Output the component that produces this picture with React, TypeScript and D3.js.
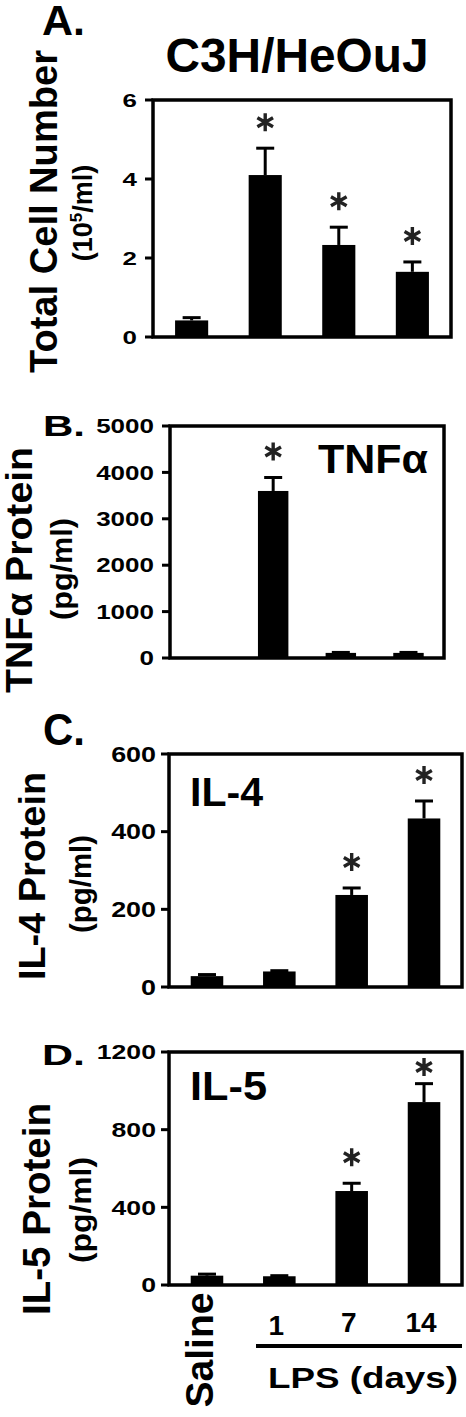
import React from "react";
import * as d3 from "d3";

// ---------- data ----------
const groups = ["Saline", "1", "7", "14"];
const dayLabels = ["1", "7", "14"];

const cellMeans = [0.42, 4.1, 2.33, 1.65];
const cellErr = [0.07, 0.68, 0.45, 0.25];
const cellSig = [false, true, true, true];
const cellTicks = [0, 2, 4, 6];

const tnfMeans = [0, 3600, 110, 110];
const tnfErr = [0, 290, 10, 10];
const tnfSig = [false, true, false, false];
const tnfTicks = [0, 1000, 2000, 3000, 4000, 5000];

const il4Means = [28, 40, 237, 434];
const il4Err = [4, 2, 18, 45];
const il4Sig = [false, false, true, true];
const il4Ticks = [0, 200, 400, 600];

const il5Means = [48, 45, 484, 942];
const il5Err = [8, 3, 40, 95];
const il5Sig = [false, false, true, true];
const il5Ticks = [0, 400, 800, 1200];

const FONT = "'Liberation Sans', Arial, Helvetica, sans-serif";

type Panel = {
  means: number[];
  errs: number[];
  sig: boolean[];
  ticks: number[];
  left: number;
  right: number;
  top: number;
  bottom: number;
  tickFs: number;
  tickSx: number;
  tickRight: number;
};

const panels: Panel[] = [
  { means: cellMeans, errs: cellErr, sig: cellSig, ticks: cellTicks, left: 153, right: 451, top: 100, bottom: 337, tickFs: 18.5, tickSx: 1.4, tickRight: 137 },
  { means: tnfMeans, errs: tnfErr, sig: tnfSig, ticks: tnfTicks, left: 170, right: 444, top: 426, bottom: 658, tickFs: 20, tickSx: 1.3, tickRight: 154 },
  { means: il4Means, errs: il4Err, sig: il4Sig, ticks: il4Ticks, left: 169, right: 462, top: 754, bottom: 987, tickFs: 21.5, tickSx: 1.25, tickRight: 156 },
  { means: il5Means, errs: il5Err, sig: il5Sig, ticks: il5Ticks, left: 169, right: 462, top: 1052, bottom: 1285, tickFs: 20.5, tickSx: 1.3, tickRight: 156 },
];

function T(props: {
  x: number; y: number; fs: number; sx?: number; rot?: number; anchor?: string; len?: number; children: React.ReactNode; fill?: string;
}) {
  const { x, y, fs, sx = 1, rot = 0, anchor = "start", len, children, fill = "#000" } = props;
  const tf = `translate(${x},${y})` + (rot ? ` rotate(${rot})` : "") + (sx !== 1 ? ` scale(${sx},1)` : "");
  return (
    <text
      transform={tf}
      fontFamily={FONT}
      fontWeight="bold"
      fontSize={fs}
      textAnchor={anchor}
      fill={fill}
      textLength={len}
      lengthAdjust={len ? "spacingAndGlyphs" : undefined}
    >
      {children}
    </text>
  );
}

const asterisk = d3.symbol().type(d3.symbolAsterisk).size(230)() as string;

function BarPanel({ p }: { p: Panel }) {
  const x = d3.scaleBand<string>().domain(groups).range([p.left, p.right]).paddingInner(0.55).paddingOuter(0.3);
  const y = d3.scaleLinear().domain([0, p.ticks[p.ticks.length - 1]]).range([p.bottom, p.top]);
  const bw = x.bandwidth();
  return (
    <g>
      {p.means.map((m, i) => {
        const g = groups[i];
        const x0 = x(g)!;
        const cx = x0 + bw / 2;
        const errTop = y(m + p.errs[i]);
        const starY = Math.max(p.top + 15, errTop - 26);
        return (
          <g key={g}>
            {p.errs[i] > 0 && (
              <g stroke="#000" strokeWidth={3}>
                <line x1={cx} x2={cx} y1={y(m)} y2={errTop} />
                <line x1={cx - 9} x2={cx + 9} y1={errTop} y2={errTop} />
              </g>
            )}
            {m > 0 && <rect x={x0} y={y(m)} width={bw} height={p.bottom - y(m)} fill="#000" />}
            {p.sig[i] && (
              <path d={asterisk} transform={`translate(${cx},${starY})`} fill="none" stroke="#222" strokeWidth={3.4} />
            )}
          </g>
        );
      })}
      {p.ticks.map((t) => (
        <g key={t}>
          <line x1={p.left - 8} x2={p.left} y1={y(t)} y2={y(t)} stroke="#000" strokeWidth={3} />
          <T x={p.tickRight} y={y(t) + 0.36 * p.tickFs} fs={p.tickFs} sx={p.tickSx} anchor="end">
            {String(t)}
          </T>
        </g>
      ))}
      <rect x={p.left} y={p.top} width={p.right - p.left} height={p.bottom - p.top} fill="none" stroke="#000" strokeWidth={3.5} />
    </g>
  );
}

export default function App() {
  const d = panels[3];
  const xd = d3.scaleBand<string>().domain(groups).range([d.left, d.right]).paddingInner(0.55).paddingOuter(0.3);
  const bw = xd.bandwidth();
  return (
    <svg width={466} height={1417} style={{ position: "absolute", left: 0, top: 0, background: "#fff" }}>
      <rect x={0} y={0} width={466} height={1417} fill="#fff" />
      {/* Panel A */}
      <T x={42} y={35} fs={42} len={43}>A.</T>
      <T x={297} y={72} fs={48} anchor="middle" len={263}>C3H/HeOuJ</T>
      <T x={57} y={211.5} fs={38} rot={-90} anchor="middle" len={323}>Total Cell Number</T>
      <text transform="translate(92,213) rotate(-90)" fontFamily={FONT} fontWeight="bold" fontSize={27} textAnchor="middle">
        (10<tspan fontSize={17} dy={-10}>5</tspan><tspan dy={10}>/ml)</tspan>
      </text>
      <BarPanel p={panels[0]} />

      {/* Panel B */}
      <T x={43} y={436} fs={30} len={42}>B.</T>
      <T x={32} y={570} fs={36} rot={-90} anchor="middle" len={246}>TNFα Protein</T>
      <T x={72} y={569} fs={30} rot={-90} anchor="middle" len={102}>(pg/ml)</T>
      <T x={318} y={473} fs={40} len={110}>TNFα</T>
      <BarPanel p={panels[1]} />

      {/* Panel C */}
      <T x={43} y={745} fs={44} len={42}>C.</T>
      <T x={45} y={876} fs={37} rot={-90} anchor="middle" len={208}>IL-4  Protein</T>
      <T x={91} y={884} fs={30} rot={-90} anchor="middle" len={98}>(pg/ml)</T>
      <T x={190} y={806} fs={40} len={73}>IL-4</T>
      <BarPanel p={panels[2]} />

      {/* Panel D */}
      <T x={42} y={1065} fs={30} len={43}>D.</T>
      <T x={50} y={1209} fs={38} rot={-90} anchor="middle" len={212}>IL-5  Protein</T>
      <T x={91} y={1210} fs={30} rot={-90} anchor="middle" len={106}>(pg/ml)</T>
      <T x={190} y={1100} fs={40} len={77}>IL-5</T>
      <BarPanel p={panels[3]} />

      {/* x-axis labels */}
      <T x={213} y={1350} fs={39} rot={-90} anchor="middle" len={115}>{groups[0]}</T>
      {dayLabels.map((lab, i) => (
        <T key={lab} x={xd(groups[i + 1])! + bw / 2 - 3} y={i === 0 ? 1335 : 1332} fs={28} anchor="middle">
          {lab}
        </T>
      ))}
      <line x1={256} x2={462} y1={1346} y2={1346} stroke="#000" strokeWidth={4} />
      <T x={363} y={1388} fs={30} anchor="middle" len={190}>LPS (days)</T>
    </svg>
  );
}
